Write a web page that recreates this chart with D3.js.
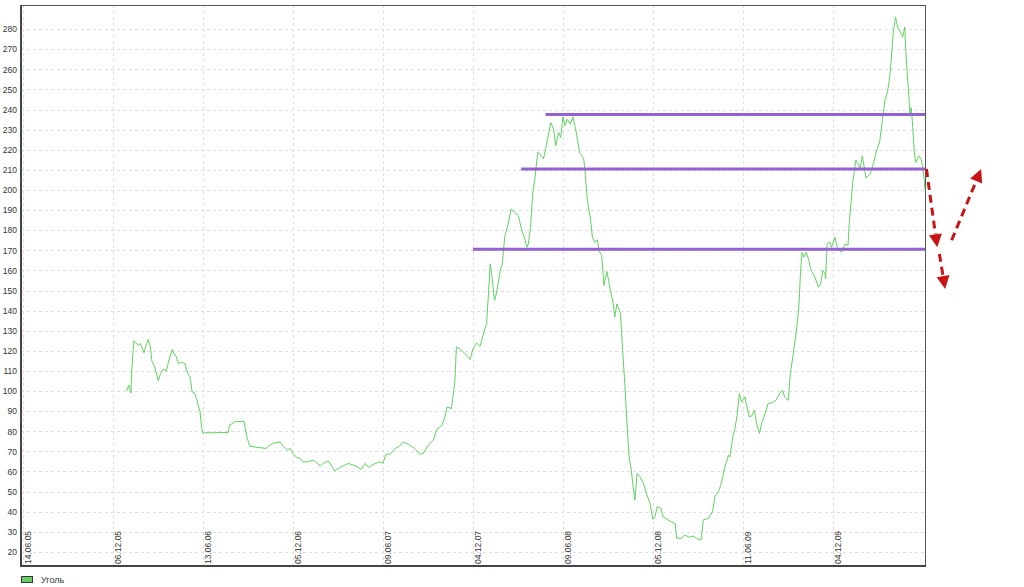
<!DOCTYPE html>
<html>
<head>
<meta charset="utf-8">
<script src="https://cdn.jsdelivr.net/npm/d3@7"></script>
<style>
  html, body { margin: 0; padding: 0; background: #fff; }
  svg { display: block; }
  text { font-family: "Liberation Sans", Arial, sans-serif; }
</style>
</head>
<body>
<svg id="chart" width="1024" height="587"></svg>
<script>
// ---- data ----
const seriesName = "Уголь";
const tickLabels = ["14.06.05","06.12.05","13.06.06","05.12.06","09.06.07","04.12.07","09.06.08","05.12.08","11.06.09","04.12.09"];
const tickDays = [0,125,250,375,500,625,750,875,1000,1125];
const yTicks = [20,30,40,50,60,70,80,90,100,110,120,130,140,150,160,170,180,190,200,210,220,230,240,250,260,270,280];

const days = [144,147,150,151,154,157,160,163,165,168,171,174,177,179,183,186,188,191,195,199,
  202,207,210,213,216,220,225,228,232,235,238,241,244,246,248,250,255,264,274,285,
  287,294,307,311,315,325,338,343,348,357,362,368,
  371,375,380,385,389,396,403,408,413,417,424,431,433,440,447,452,459,466,470,475,480,489,496,500,
  504,510,517,523,528,535,544,551,556,563,570,575,582,586,589,595,598,600,
  602,607,614,621,625,630,635,639,644,646,649,651,655,658,663,666,669,674,678,683,688,693,697,700,702,
  705,708,711,715,718,723,726,730,733,737,740,744,747,750,753,756,760,764,769,773,776,779,781,784,788,
  791,794,798,800,804,807,811,814,815,820,822,825,830,833,836,839,842,845,847,850,853,857,862,866,871,
  875,878,881,886,889,896,903,906,908,915,919,926,931,938,942,945,952,958,961,967,970,975,980,982,986,
  989,992,995,998,1003,1005,1009,1012,1016,1019,1023,1026,1031,1035,1040,1046,1051,1055,1058,1063,1066,
  1070,1075,1078,1080,1082,1085,1088,1091,1095,1100,1105,1108,1111,1114,1115,1117,1121,1123,1128,1131,
  1137,1142,1146,1148,1153,1157,1163,1166,1171,1177,1182,1186,1190,1194,1197,1201,1204,1207,1209,1212,
  1215,1218,1222,1225,1226,1229,1231,1232,1234,1236,1238,1240,1245,1248,1250,1252,1253];
const prices = [100,103,99,110,125,124,122.7,123.6,122,119,122.7,125.6,122,115,112,108,105,108.7,111,110,
  114.4,120.6,118.6,117,113.6,114.4,113.6,109.5,107,99.6,99,96.3,92.1,89.6,82.2,78.9,79.4,79.2,79.4,79.4,
  83,84.7,85,77.2,72.6,72,71.5,73.1,74,74.7,72.3,70.6,
  71.5,69,67,66.5,64.8,64.8,65.7,64.3,62.7,64,65.3,61.5,60.3,62,63.2,64,63.2,62,61,64,62,64,64.8,64,
  68.6,68.6,71.5,72.6,74.7,73.6,71.5,68.6,69,73.1,75.6,81,83,87.1,92.1,91.3,98.8,105.4,
  121.9,121,118.6,115.6,121,123.9,122.2,127.7,133.5,145,163.3,158.3,145,149.2,160,163.3,176.5,183.1,190.6,188.9,187.3,179.8,175.7,171.5,173.2,
  181.4,198,205.4,218.7,217.9,215.4,220.4,227.8,233.6,230.3,222,228.6,226.1,236.4,232,235.2,232.8,236.4,227.8,218.7,217,215.4,208,194.7,186.4,
  176.5,174,175.2,169.9,167.4,152.5,159.5,154.1,151.7,143.4,136.8,143.4,138.5,120.2,103.7,83.9,67.3,60.7,54.1,45.8,59,57.4,54.1,49.1,44.2,
  36.2,37.5,42.5,41.7,37.5,35.9,34.5,34,26.8,26.8,28.4,27.3,27.9,26.3,26,35.9,36.7,40,47.4,50.8,54.1,62.3,68.1,67.3,77.2,
  81.4,88,98.8,94.6,97.1,93,87.2,87.5,90.5,83.9,78.9,83.9,88.9,93.8,94.1,95.4,98.8,100.4,97.1,95.4,108.7,
  118.6,131.8,143.4,158.3,169,166.6,169,165.8,160,156.6,151.7,153.3,160,158.5,155.8,173.2,174,171.5,176.5,171.5,
  169,173.2,172.3,184.8,205,215,211,217,206,208,214,220,224,235,244,249,256,269,279,286,
  281,279,276,281,271,254,245,237,241,231,219.5,213.7,217,215,210.4,204.6,200];

// support / resistance levels: [value, startDay, endDay]
const levelValues = [237.5, 210.5, 170.5];
const levelStarts = [726, 692, 625];
const levelEnd = 1253;

// forecast arrows: [fromDay, fromValue, toDay, toValue]
const arrowFromDays = [1255, 1273, 1290];
const arrowFromVals = [210.4, 168.2, 175];
const arrowToDays = [1270, 1281, 1331];
const arrowToVals = [171.5, 150.8, 210.4];

// ---- layout ----
const svg = d3.select("#chart");
const plot = {left: 21, right: 925, top: 5, bottom: 566};

const x = d3.scaleLinear().domain([0, 1253]).range([23, plot.right]);
const y = d3.scaleLinear().domain([13, 292]).range([plot.bottom, plot.top]);

// grid
const grid = svg.append("g");
grid.selectAll("line.h").data(yTicks).enter().append("line")
  .attr("x1", plot.left).attr("x2", plot.right)
  .attr("y1", d => Math.round(y(d)) + 0.5).attr("y2", d => Math.round(y(d)) + 0.5)
  .attr("stroke", "#e0e0e0").attr("stroke-dasharray", "3,3");
grid.selectAll("line.v").data(tickDays).enter().append("line")
  .attr("x1", d => Math.round(x(d)) + 0.5).attr("x2", d => Math.round(x(d)) + 0.5)
  .attr("y1", plot.top).attr("y2", plot.bottom)
  .attr("stroke", "#e0e0e0").attr("stroke-dasharray", "3,3");

// frame
svg.append("rect")
  .attr("x", plot.left + 0.5).attr("y", plot.top + 0.5)
  .attr("width", plot.right - plot.left).attr("height", plot.bottom - plot.top)
  .attr("fill", "none").attr("stroke", "#555").attr("stroke-width", 1);
svg.append("line").attr("x1", plot.left).attr("x2", plot.left).attr("y1", plot.top).attr("y2", plot.bottom + 1)
  .attr("stroke", "#444").attr("stroke-width", 2);
svg.append("line").attr("x1", plot.left).attr("x2", plot.right + 1).attr("y1", plot.bottom).attr("y2", plot.bottom)
  .attr("stroke", "#444").attr("stroke-width", 2);

// y axis labels
const yAxis = d3.axisLeft(y).tickValues(yTicks).tickSize(0).tickPadding(3);
const gy = svg.append("g").attr("transform", `translate(${plot.left - 1},0)`).call(yAxis);
gy.select(".domain").remove();
gy.selectAll("text").attr("font-size", "8.5px").attr("fill", "#333")
  .attr("font-family", "'Liberation Sans', Arial, sans-serif");

// x axis labels (rotated, inside plot)
const gx = svg.append("g");
gx.selectAll("text").data(tickDays).enter().append("text")
  .attr("transform", (d) => `translate(${x(d) + 8},${plot.bottom - 2}) rotate(-90)`)
  .attr("font-size", "8.5px").attr("fill", "#333")
  .text((d, i) => tickLabels[i]);

// series line
const pts = days.map((d, i) => [d, prices[i]]);
svg.append("path").datum(pts)
  .attr("fill", "none").attr("stroke", "#5fd35f").attr("stroke-width", 1)
  .attr("d", d3.line().x(d => x(d[0])).y(d => y(d[1])));

// levels
svg.selectAll("line.level").data(levelValues).enter().append("line")
  .attr("x1", (d, i) => x(levelStarts[i])).attr("x2", x(levelEnd))
  .attr("y1", d => y(d)).attr("y2", d => y(d))
  .attr("stroke", "#9560d2").attr("stroke-width", 3);

// arrows
const arrowColor = "#c81414";
arrowFromDays.forEach((fd, i) => {
  const x1 = x(fd), y1 = y(arrowFromVals[i]), x2 = x(arrowToDays[i]), y2 = y(arrowToVals[i]);
  const ang = Math.atan2(y2 - y1, x2 - x1);
  const headLen = 13, headW = 6.5;
  const bx = x2 - headLen * Math.cos(ang), by = y2 - headLen * Math.sin(ang);
  svg.append("line").attr("x1", x1).attr("y1", y1).attr("x2", bx).attr("y2", by)
    .attr("stroke", arrowColor).attr("stroke-width", 3).attr("stroke-dasharray", "8,5");
  const px = -Math.sin(ang), py = Math.cos(ang);
  svg.append("path")
    .attr("d", `M${x2},${y2}L${bx + px * headW},${by + py * headW}L${bx - px * headW},${by - py * headW}Z`)
    .attr("fill", arrowColor);
});

// legend
svg.append("rect").attr("x", 21.5).attr("y", 576.5).attr("width", 11).attr("height", 6)
  .attr("fill", "#66cc66").attr("stroke", "#333").attr("stroke-width", 1);
svg.append("text").attr("x", 41).attr("y", 583).attr("font-size", "9px").attr("fill", "#333").text(seriesName);
</script>
</body>
</html>
